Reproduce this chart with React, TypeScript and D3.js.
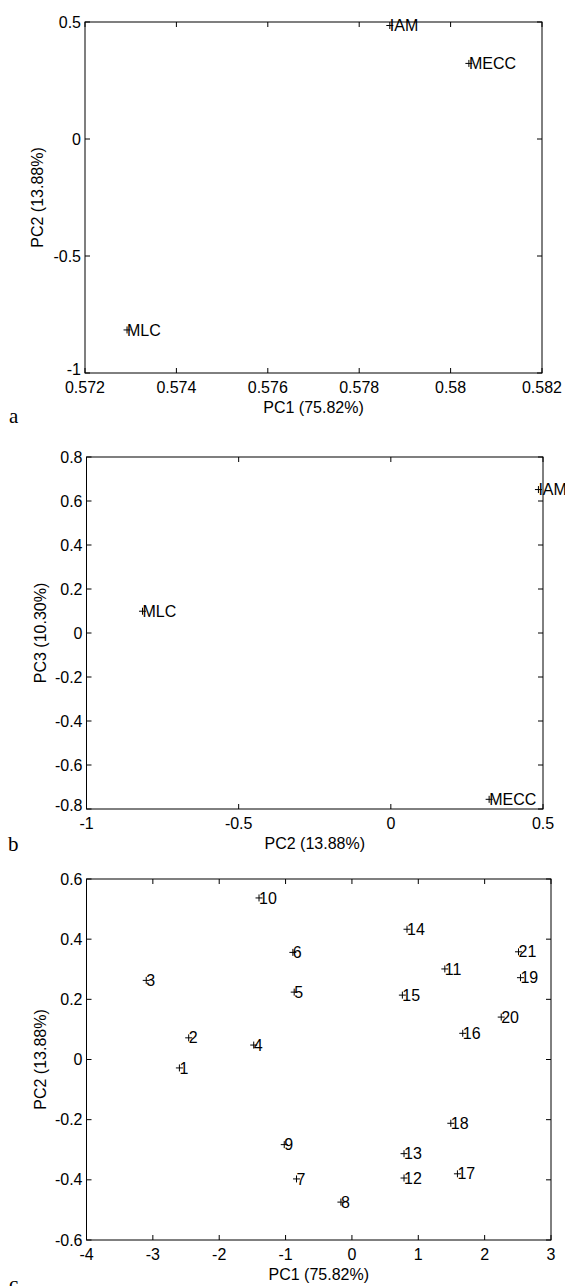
import React from "react";
import * as d3 from "d3";

// panels a and b: the three methods
const methodNames = ["IAM", "MECC", "MLC"];
const methodPC1 = [0.57867, 0.5804, 0.57292];
const methodPC2 = [0.485, 0.323, -0.816];
const methodPC3 = [0.652, -0.756, 0.099];

// panel c: the 21 samples
const sampleNames = [
  "1", "2", "3", "4", "5", "6", "7", "8", "9", "10", "11",
  "12", "13", "14", "15", "16", "17", "18", "19", "20", "21",
];
const samplePC1 = [
  -2.6, -2.46, -3.1, -1.48, -0.87, -0.89, -0.835, -0.166, -1.02, -1.4, 1.4,
  0.785, 0.785, 0.83, 0.76, 1.67, 1.59, 1.49, 2.54, 2.25, 2.51,
];
const samplePC2 = [
  -0.028, 0.072, 0.263, 0.048, 0.224, 0.356, -0.397, -0.474, -0.283, 0.537, 0.301,
  -0.394, -0.313, 0.433, 0.214, 0.087, -0.38, -0.212, 0.272, 0.141, 0.358,
];

// tick values
const ticksAX = [0.572, 0.574, 0.576, 0.578, 0.58, 0.582];
const ticksAY = [-1, -0.5, 0, 0.5];
const ticksBX = [-1, -0.5, 0, 0.5];
const ticksBY = [-0.8, -0.6, -0.4, -0.2, 0, 0.2, 0.4, 0.6, 0.8];
const ticksCX = [-4, -3, -2, -1, 0, 1, 2, 3];
const ticksCY = [-0.6, -0.4, -0.2, 0, 0.2, 0.4, 0.6];

const FONT = "'Liberation Sans', Arial, Helvetica, sans-serif";
const TICK = 5;

type Point = { label: string; x: number; y: number };

type PanelProps = {
  box: { left: number; right: number; top: number; bottom: number };
  xTicks: number[];
  yTicks: number[];
  xLabel: string;
  yLabel: string;
  yLabelX: number;
  letter: string;
  letterPos: [number, number];
  lowestLift: number; // lowest y tick label sits a bit higher, as in matlab
  points: Point[];
};

function Panel({ box, xTicks, yTicks, xLabel, yLabel, yLabelX, letter, letterPos, lowestLift, points }: PanelProps) {
  const x = d3
    .scaleLinear()
    .domain([xTicks[0], xTicks[xTicks.length - 1]])
    .range([box.left, box.right]);
  const y = d3
    .scaleLinear()
    .domain([yTicks[0], yTicks[yTicks.length - 1]])
    .range([box.bottom, box.top]);
  const fmt = (v: number) => String(+v.toFixed(4));
  const midY = (box.top + box.bottom) / 2;

  return (
    <g fontFamily={FONT} fontSize={16} fill="#000">
      <rect
        x={box.left}
        y={box.top}
        width={box.right - box.left}
        height={box.bottom - box.top}
        fill="none"
        stroke="#000"
        strokeWidth={1}
      />
      {/* inward ticks on all four sides */}
      {xTicks.map((t) => (
        <g key={"x" + t}>
          <line x1={x(t)} x2={x(t)} y1={box.bottom} y2={box.bottom - TICK} stroke="#000" />
          <line x1={x(t)} x2={x(t)} y1={box.top} y2={box.top + TICK} stroke="#000" />
          <text x={x(t)} y={box.bottom + 20} textAnchor="middle">
            {fmt(t)}
          </text>
        </g>
      ))}
      {yTicks.map((t, i) => (
        <g key={"y" + t}>
          <line x1={box.left} x2={box.left + TICK} y1={y(t)} y2={y(t)} stroke="#000" />
          <line x1={box.right} x2={box.right - TICK} y1={y(t)} y2={y(t)} stroke="#000" />
          <text x={box.left - 4} y={y(t) - (i === 0 ? lowestLift : 0)} dy="0.35em" textAnchor="end">
            {fmt(t)}
          </text>
        </g>
      ))}
      <text x={(box.left + box.right) / 2} y={box.bottom + 40} textAnchor="middle">
        {xLabel}
      </text>
      <text
        transform={`translate(${yLabelX},${midY}) rotate(-90)`}
        dy="0.35em"
        textAnchor="middle"
      >
        {yLabel}
      </text>
      {points.map((p) => (
        <g key={p.label}>
          <path
            d={`M${x(p.x) - 3.5},${y(p.y)}H${x(p.x) + 3.5}M${x(p.x)},${y(p.y) - 3.5}V${y(p.y) + 3.5}`}
            stroke="#000"
            strokeWidth={1}
          />
          <text x={x(p.x)} y={y(p.y)} dy="0.35em">
            {p.label}
          </text>
        </g>
      ))}
      <text
        x={letterPos[0]}
        y={letterPos[1]}
        fontFamily="'Liberation Serif', 'Times New Roman', serif"
        fontSize={21}
      >
        {letter}
      </text>
    </g>
  );
}

export default function App() {
  const pointsA = methodNames.map((n, i) => ({ label: n, x: methodPC1[i], y: methodPC2[i] }));
  const pointsB = methodNames.map((n, i) => ({ label: n, x: methodPC2[i], y: methodPC3[i] }));
  const pointsC = sampleNames.map((n, i) => ({ label: n, x: samplePC1[i], y: samplePC2[i] }));

  return (
    <svg
      width={565}
      height={1286}
      style={{ position: "absolute", left: 0, top: 0, background: "#fff" }}
    >
      <Panel
        box={{ left: 85, right: 542, top: 22, bottom: 373 }}
        xTicks={ticksAX}
        yTicks={ticksAY}
        xLabel="PC1 (75.82%)"
        yLabel="PC2 (13.88%)"
        yLabelX={37}
        letter="a"
        letterPos={[9, 423]}
        lowestLift={4}
        points={pointsA}
      />
      <Panel
        box={{ left: 86.5, right: 543, top: 457, bottom: 809 }}
        xTicks={ticksBX}
        yTicks={ticksBY}
        xLabel="PC2 (13.88%)"
        yLabel="PC3 (10.30%)"
        yLabelX={40}
        letter="b"
        letterPos={[8, 851]}
        lowestLift={4}
        points={pointsB}
      />
      <Panel
        box={{ left: 86.5, right: 551, top: 879, bottom: 1240 }}
        xTicks={ticksCX}
        yTicks={ticksCY}
        xLabel="PC1 (75.82%)"
        yLabel="PC2 (13.88%)"
        yLabelX={40}
        letter="c"
        letterPos={[9, 1291]}
        lowestLift={0}
        points={pointsC}
      />
    </svg>
  );
}
